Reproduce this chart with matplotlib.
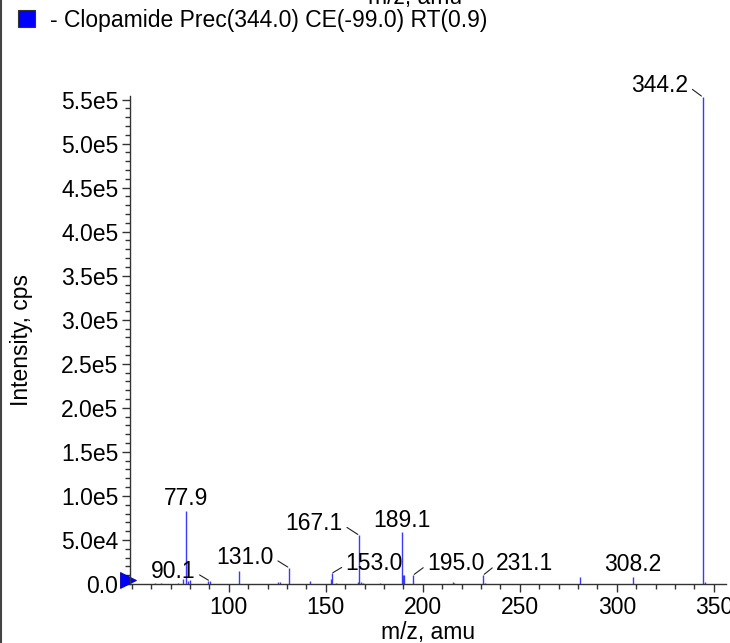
import matplotlib
matplotlib.use("Agg")
import matplotlib.pyplot as plt
from matplotlib.lines import Line2D
from matplotlib.patches import Rectangle
from matplotlib.ticker import MultipleLocator, FixedLocator, FuncFormatter

plt.rcParams['font.family'] = ['Liberation Sans', 'DejaVu Sans']

# Espectro MS/MS - Clopamida
mz = [62.0, 65.0, 74.0, 76.6, 77.9, 79.0, 80.0, 89.5, 90.1, 105.3, 125.5, 126.5,
      131.0, 142.0, 152.6, 153.0, 155.0, 166.5, 167.1, 168.0, 169.0, 178.0,
      189.1, 189.8, 190.5, 195.0, 215.5, 216.3, 231.1, 232.0, 281.0, 308.2,
      344.2, 345.5]
intensidade = [1000, 800, 1500, 5500, 82600, 3000, 4500, 3000, 3500, 14700, 2500, 2000,
               18400, 3000, 6000, 12000, 1500, 2000, 55400, 2000, 1500, 1000,
               59000, 10000, 10000, 10000, 2000, 1500, 10000, 1500, 7500, 7900,
               553000, 2500]

# rotulos: valor e deslocamento do texto (pixels)
rotulos = ["344.2", "77.9", "90.1", "131.0", "153.0", "167.1", "189.1", "195.0", "231.1", "308.2"]
rot_mz = [344.2, 77.9, 90.1, 131.0, 153.0, 167.1, 189.1, 195.0, 231.1, 308.2]
rot_dx = [-14, 0, -14, -15, 14, -16, 0, 14, 13, 0]
rot_dy = [5, 6, 3, 4, 3, 5, 5, 5, 5, 6]

x_ticks = [100, 150, 200, 250, 300, 350]

legenda = "- Clopamide Prec(344.0) CE(-99.0) RT(0.9)"

FS = 16.5

fig = plt.figure(figsize=(7.30, 6.43), dpi=100)
W, H = 730, 643
ax = fig.add_axes([129.5 / W, 59 / H, (726 - 129.5) / W, (584 - 96) / H])

ax.vlines(mz, 0, intensidade, color='#3a3aff', lw=1.0)

ax.set_xlim(48.8, 356.3)
ax.set_ylim(0, 5.54e5)

for s in ['top', 'right']:
    ax.spines[s].set_visible(False)
for s in ['left', 'bottom']:
    ax.spines[s].set_color('#333333')
    ax.spines[s].set_linewidth(1.0)

ax.xaxis.set_major_locator(FixedLocator(x_ticks))
ax.xaxis.set_minor_locator(MultipleLocator(10))
ax.yaxis.set_major_locator(MultipleLocator(5e4))
ax.yaxis.set_minor_locator(MultipleLocator(1e4))


def fmt_y(v, pos):
    if v == 0:
        return "0.0"
    e = len(str(int(round(v)))) - 1
    return "{:.1f}e{}".format(v / 10 ** e, e)


ax.yaxis.set_major_formatter(FuncFormatter(fmt_y))
ax.tick_params(which='major', length=6, width=1, color='#333333', labelsize=FS, pad=2)
ax.tick_params(which='minor', length=3.5, width=1, color='#333333')
ax.tick_params(axis='x', which='major', pad=3)

ax.set_xlabel("m/z, amu", fontsize=FS, labelpad=1)
ax.set_ylabel("Intensity, cps", fontsize=FS, labelpad=20)

# rotulos dos picos
for txt, x, dx, dy in zip(rotulos, rot_mz, rot_dx, rot_dy):
    y = intensidade[mz.index(x)]
    if dx == 0:
        ax.annotate(txt, (x, y), xytext=(dx, dy), textcoords='offset pixels',
                    ha='center', va='baseline', fontsize=FS, annotation_clip=False)
    else:
        ha = 'right' if dx < 0 else 'left'
        rx = 1.0 if dx < 0 else 0.0
        ax.annotate(txt, (x, y), xytext=(dx, dy), textcoords='offset pixels',
                    ha=ha, va='baseline', fontsize=FS, annotation_clip=False,
                    arrowprops=dict(arrowstyle='-', color='#222222', lw=0.8,
                                    shrinkA=1, shrinkB=1, relpos=(rx, 0.45)))

# marcador triangular na origem
ax.plot([47.9], [4500], marker='>', markersize=11, color='#0000ff',
        markeredgecolor='#0000aa', markeredgewidth=0.6, clip_on=False)

# legenda
fig.patches.append(Rectangle((18 / W, 1 - 27 / H), 17 / W, 17 / H, transform=fig.transFigure,
                             facecolor='#0000ff', edgecolor='#333333', lw=0.8))
fig.text(50 / W, 1 - 27 / H, legenda, fontsize=FS, va='baseline', ha='left')

# titulo do grafico de cima, cortado
fig.text(415 / W, 1 - 4 / H, "m/z, amu", fontsize=FS, va='baseline', ha='center')

# borda esquerda
fig.lines.append(Line2D([1.5 / W, 1.5 / W], [0, 1], transform=fig.transFigure,
                        color='#444444', lw=1.5))

fig.savefig("out.png", dpi=100)
